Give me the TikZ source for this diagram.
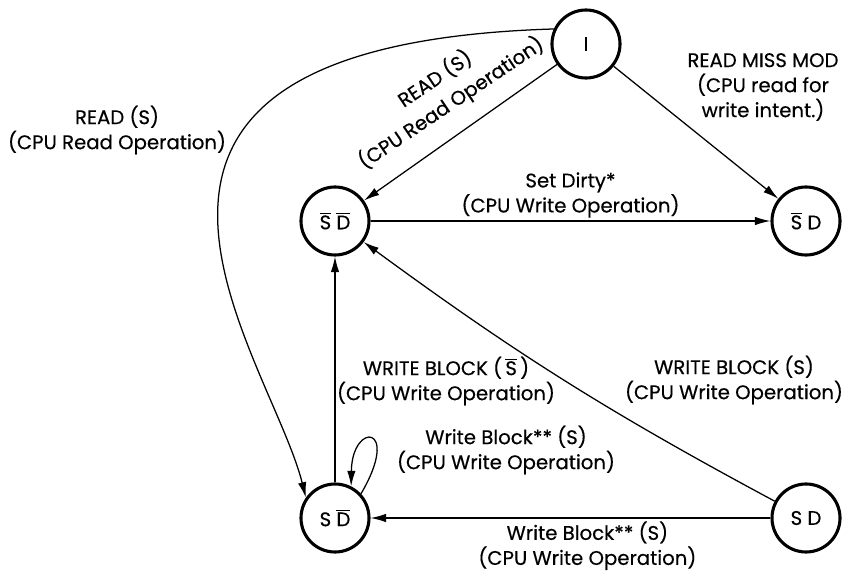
\documentclass[tikz,border=0pt]{standalone}
\usepackage{fontspec}
\setmainfont{Poppins}[FakeBold=0.4]
\usepackage{tikz}
\usetikzlibrary{arrows.meta}
\newcommand{\ovl}[1]{$\overline{\hbox{#1}}$}

\tikzset{
  state/.style={circle, draw, line width=2.2pt, minimum size=1.7cm, inner sep=0pt},
  arr/.style={-{Latex[length=11pt,width=6pt]}, line width=0.9pt},
  lbl/.style={align=center, inner sep=2pt}
}

\begin{document}
\begin{tikzpicture}[x=0.025cm, y=-0.025cm, font=\fontsize{14}{17.8}\selectfont]
  \useasboundingbox (0,0) rectangle (843,571);

  \node[state] (I)    at (586,44)  {I};
  \node[state] (SbDb) at (335,221) {\ovl{S} \ovl{D}};
  \node[state] (SbD)  at (806,221) {\ovl{S} D};
  \node[state] (SDb)  at (335,518) {S \ovl{D}};
  \node[state] (SD)   at (806,518) {S D};

  \draw[arr] (I) -- (SbDb);
  \node[lbl, rotate=34, font=\fontsize{14}{20.5}\selectfont] (readdiag) at (443,91) {READ (S)\\(CPU Read Operation)};
  \draw[arr] (I) -- (SbD);
  \node[lbl] (missmod) at (763,87) {READ MISS MOD\\(CPU read for\\write intent.)};
  \draw[arr] (I.155) .. controls (25,45) and (270,354) .. (SDb.145);
  \node[lbl] (readleft) at (117,130) {READ (S)\\(CPU Read Operation)};

  \draw[arr] (SbDb) -- node[lbl, above] {Set Dirty*\\(CPU Write Operation)} (SbD);
  \draw[arr] (SDb) -- (SbDb);
  \node[lbl] (wbsbar) at (446,381) {WRITE BLOCK (\,\ovl{S}\,)\\(CPU Write Operation)};
  \draw[arr] (SDb.43) .. controls (402,424) and (352,421) .. (SDb.63);
  \node[lbl] (wbloop) at (506,450) {Write Block** (S)\\(CPU Write Operation)};

  \draw[arr] (SD) to[bend left=4] (SbDb);
  \node[lbl] (wbs) at (734,380) {WRITE BLOCK (S)\\(CPU Write Operation)};
  \draw[arr] (SD) -- node[lbl, below, xshift=12] {Write Block** (S)\\(CPU Write Operation)} (SDb);
\end{tikzpicture}
\end{document}
